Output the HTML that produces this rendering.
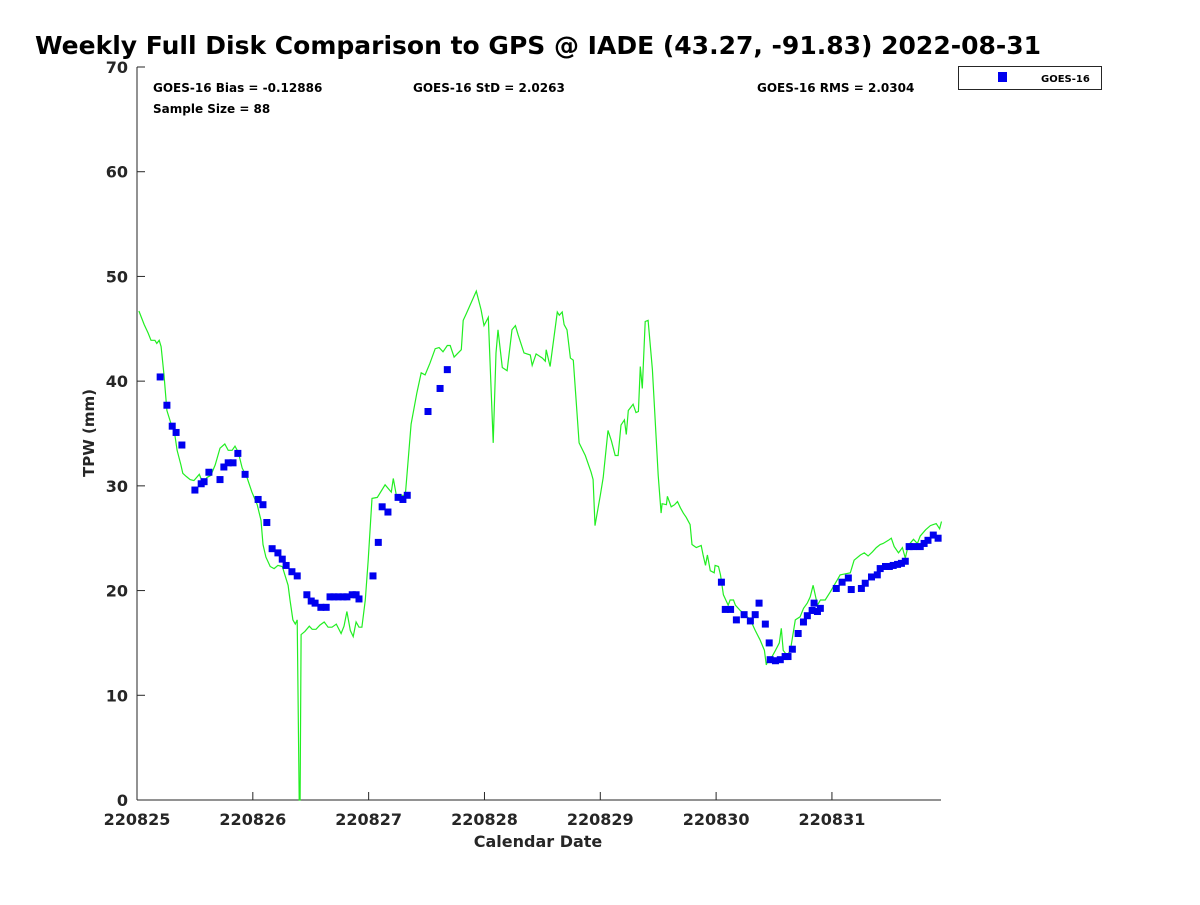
<!DOCTYPE html>
<html><head><meta charset="utf-8"><style>
body{margin:0;background:#fff;}
svg text{font-family:"DejaVu Sans","Liberation Sans",sans-serif;font-weight:bold;fill:#262626;}
</style></head><body>
<svg id="chart" width="1200" height="900" xmlns="http://www.w3.org/2000/svg">
<rect width="1200" height="900" fill="#fff"/>
<text x="35" y="54" font-size="25" style="fill:#000">Weekly Full Disk Comparison to GPS @ IADE (43.27, -91.83) 2022-08-31</text>
<g id="axes"></g>
<g id="series"></g>
<text x="153" y="92" font-size="12" style="fill:#000">GOES-16 Bias = -0.12886</text>
<text x="153" y="113" font-size="12" style="fill:#000">Sample Size = 88</text>
<text x="413" y="92" font-size="12" style="fill:#000">GOES-16 StD = 2.0263</text>
<text x="757" y="92" font-size="12" style="fill:#000">GOES-16 RMS = 2.0304</text>
<g>
<rect x="958.5" y="66.5" width="143" height="23" fill="#fff" stroke="#262626" stroke-width="1"/>
<rect x="998" y="72" width="9" height="10" fill="#0000ee"/>
<text x="1041" y="82" font-size="10" style="fill:#000">GOES-16</text>
</g>
<text x="538" y="847" font-size="16" text-anchor="middle">Calendar Date</text>
<text transform="translate(94,433) rotate(-90)" font-size="15" text-anchor="middle">TPW (mm)</text>
</svg>
<script>
const xTickLabels=["220825","220826","220827","220828","220829","220830","220831"];
const xTickHours=[0,24,48,72,96,120,144];
const yTicks=[0,10,20,30,40,50,60,70];
const gpsHours=[0.4,1.5,2.3,2.9,3.7,4.1,4.6,5.0,5.6,6.2,7.0,7.7,8.3,9.1,9.5,10.2,11.0,11.8,12.9,13.7,14.5,15.3,16.2,17.2,18.2,18.9,19.7,20.3,21.0,21.8,22.8,23.8,24.9,25.7,26.1,26.7,27.6,28.4,29.2,30.1,30.7,31.3,31.7,32.3,32.8,33.2,33.6,33.8,34.0,34.8,35.7,36.3,37.1,37.9,38.8,39.6,40.4,41.3,42.3,42.9,43.5,44.2,44.8,45.4,46.0,46.6,47.3,47.9,48.7,49.8,51.4,52.7,53.1,53.9,54.7,55.6,56.8,58.0,58.9,59.7,60.7,61.8,62.6,63.4,64.3,64.9,65.7,67.2,67.6,68.2,70.3,71.3,71.9,72.8,73.8,74.4,74.8,75.7,76.7,77.7,78.4,79.0,80.2,81.5,81.9,82.7,84.0,84.6,84.8,85.6,87.1,87.5,88.1,88.5,89.1,89.8,90.4,91.6,92.9,94.1,94.5,94.9,96.0,96.6,97.6,98.3,99.1,99.7,100.3,101.0,101.4,101.8,102.8,103.4,103.9,104.3,104.7,105.3,105.9,106.8,108.0,108.6,108.8,109.7,109.9,110.7,111.4,112.0,112.6,113.2,113.8,114.6,115.0,115.9,116.9,117.3,117.8,118.2,118.8,119.6,119.8,120.5,120.9,121.5,122.5,122.9,123.6,124.0,125.0,126.0,127.1,128.1,129.1,130.0,130.4,130.8,131.6,132.3,133.1,133.5,133.9,134.7,135.4,136.4,137.4,138.1,138.9,139.5,140.1,141.0,141.6,142.6,143.7,145.1,145.7,146.8,147.8,148.6,149.9,150.7,151.5,152.4,153.2,154.0,154.6,155.7,156.3,156.9,157.8,158.6,159.2,159.8,160.9,161.7,162.3,163.4,164.4,165.0,165.6,166.3,166.7];
const gpsValues=[46.7,45.4,44.6,43.9,43.9,43.6,43.9,43.3,40.6,37.2,36.0,35.3,33.4,32.0,31.2,30.9,30.6,30.5,31.1,30.2,30.8,31.0,32.0,33.6,34.0,33.4,33.4,33.8,33.2,31.7,30.8,29.4,28.2,26.7,24.4,23.2,22.3,22.1,22.4,22.3,21.4,20.5,19.1,17.2,16.8,17.2,0,0,15.8,16.1,16.6,16.3,16.3,16.7,17.0,16.5,16.5,16.8,15.9,16.6,18.0,16.2,15.6,17.0,16.5,16.5,19.1,22.9,28.8,28.9,30.1,29.4,30.7,28.7,29.1,29.1,35.9,38.9,40.8,40.6,41.7,43.1,43.2,42.8,43.4,43.4,42.3,43.0,45.8,46.4,48.6,46.8,45.3,46.1,34.1,42.7,44.9,41.3,41.0,44.9,45.3,44.4,42.7,42.5,41.5,42.6,42.2,41.9,43.0,41.4,46.6,46.3,46.6,45.4,44.9,42.2,42.0,34.1,32.9,31.3,30.6,26.2,29.1,30.8,35.3,34.3,32.9,32.9,35.8,36.3,34.9,37.2,37.8,37.0,37.1,41.4,39.3,45.7,45.8,41.1,31.0,27.4,28.3,28.2,29.0,28.0,28.2,28.5,27.9,27.4,27.0,26.3,24.4,24.1,24.3,23.4,22.4,23.4,21.9,21.7,22.4,22.3,21.5,19.6,18.6,19.1,19.1,18.6,18.1,17.7,17.2,16.2,15.3,14.3,12.9,13.4,13.7,14.3,15.0,16.4,14.3,13.8,14.3,17.2,17.5,18.3,18.8,19.4,20.5,18.6,19.1,19.1,19.9,21.0,21.5,21.6,21.7,22.9,23.4,23.6,23.3,23.7,24.1,24.4,24.5,24.8,25.0,24.2,23.6,24.1,23.1,24.3,24.9,24.5,25.2,25.8,26.2,26.3,26.4,25.9,26.6];
const goesHours=[4.8,6.2,7.3,8.1,9.3,12.0,13.3,13.9,14.9,17.2,18.0,18.9,19.9,20.9,22.4,25.1,26.1,26.9,28.0,29.2,30.1,30.9,32.1,33.2,35.2,36.1,36.9,38.1,39.2,40.0,40.8,41.7,42.7,43.5,44.6,45.4,46.0,48.9,50.0,50.8,52.0,54.1,55.1,56.0,60.3,62.8,64.3,121.1,121.9,123.0,124.2,125.8,127.1,128.1,128.9,130.2,131.0,131.2,132.3,133.3,134.3,134.9,135.8,137.0,138.1,138.9,139.9,140.3,141.0,141.6,144.9,146.1,147.4,148.0,150.1,150.9,152.2,153.4,154.0,155.1,155.9,156.7,157.6,158.4,159.2,160.0,160.9,162.3,163.1,163.9,165.0,166.0];
const goesValues=[40.4,37.7,35.7,35.1,33.9,29.6,30.2,30.4,31.3,30.6,31.8,32.2,32.2,33.1,31.1,28.7,28.2,26.5,24.0,23.6,23.0,22.4,21.8,21.4,19.6,19.0,18.8,18.4,18.4,19.4,19.4,19.4,19.4,19.4,19.6,19.6,19.2,21.4,24.6,28.0,27.5,28.9,28.7,29.1,37.1,39.3,41.1,20.8,18.2,18.2,17.2,17.7,17.1,17.7,18.8,16.8,15.0,13.4,13.3,13.4,13.7,13.7,14.4,15.9,17.0,17.6,18.1,18.8,18.0,18.3,20.2,20.8,21.2,20.1,20.2,20.7,21.3,21.5,22.1,22.3,22.3,22.4,22.5,22.6,22.8,24.2,24.2,24.2,24.5,24.8,25.3,25.0];

const NS="http://www.w3.org/2000/svg";
const X0=137,X1=941,Y0=800,Y1=67,XMAX=166.6,YMAX=70;
const sx=h=>X0+(h/XMAX)*(X1-X0);
const sy=v=>Y0-(v/YMAX)*(Y0-Y1);
function mk(tag,attrs,parent){const e=document.createElementNS(NS,tag);for(const k in attrs)e.setAttribute(k,attrs[k]);parent.appendChild(e);return e;}
const axes=document.getElementById('axes'),series=document.getElementById('series');
let l=mk('line',{x1:X0,y1:Y1,x2:X0,y2:Y0,stroke:'#262626','stroke-width':1},axes);


l=mk('line',{x1:X0,y1:Y0,x2:X1,y2:Y0,stroke:'#262626','stroke-width':1},axes);


yTicks.forEach(v=>{
  const y=sy(v);
  mk('line',{x1:X0,y1:y,x2:X0+8,y2:y,stroke:'#262626'},axes);
  const t=mk('text',{x:X0-9,y:y+6,'font-size':16,'text-anchor':'end'},axes);
  t.textContent=v;
  
  
});
xTickHours.forEach((h,i)=>{
  const x=sx(h);
  mk('line',{x1:x,y1:Y0,x2:x,y2:Y0-8,stroke:'#262626'},axes);
  const t=mk('text',{x:x,y:Y0+25,'font-size':16,'text-anchor':'middle'},axes);
  t.textContent=xTickLabels[i];
  
  
});
const pts=gpsHours.map((h,i)=>sx(h).toFixed(1)+','+sy(gpsValues[i]).toFixed(1)).join(' ');
const pl=mk('polyline',{points:pts,fill:'none',stroke:'#22ee22','stroke-width':1.2},series);


goesHours.forEach((h,i)=>{
  const r=mk('rect',{x:sx(h)-3.5,y:sy(goesValues[i])-3.5,width:7,height:7,fill:'#0000ee'},series);
  
  
});
</script>
</body></html>
